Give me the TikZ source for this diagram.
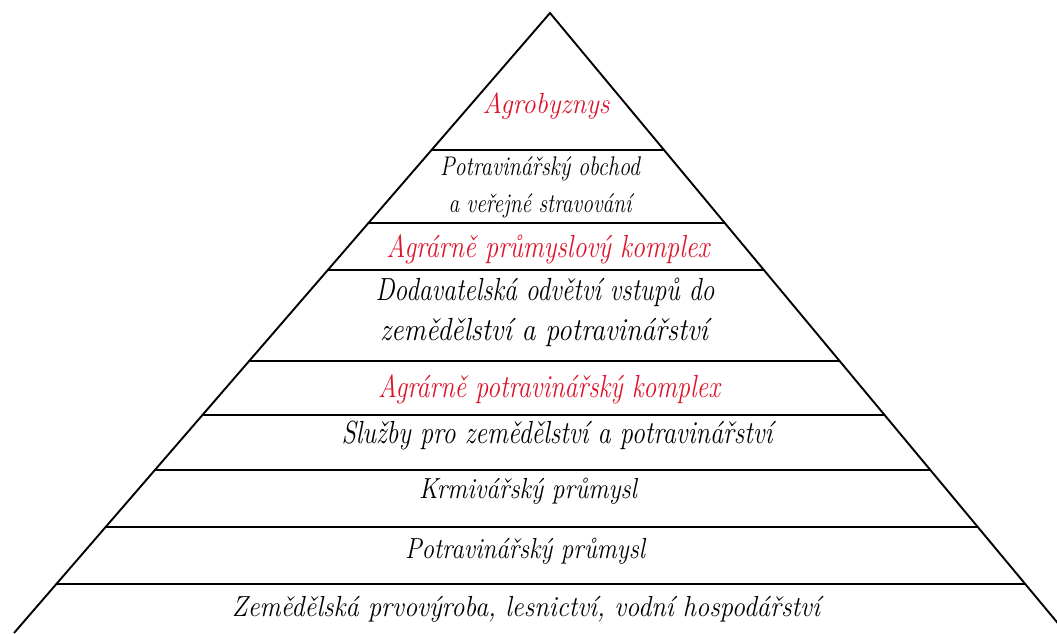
\documentclass[tikz,border=0pt]{standalone}
\usepackage{fontspec}
\usetikzlibrary{calc}
\definecolor{agred}{RGB}{222,20,44}
\newcommand{\fitw}[3]{\resizebox{#1pt}{\height}{\fontsize{#2}{#2}\selectfont\itshape #3}}
\tikzset{
  tier/.style={line width=1.9pt, line cap=round},
  side/.style={line width=1.9pt, line join=miter},
  lbl/.style={anchor=base, inner sep=0pt, text=black},
  redlbl/.style={lbl, text=agred}
}
\begin{document}
\begin{tikzpicture}[x=1pt,y=-1pt]
\useasboundingbox (0,0) rectangle (1057,633);
\fill[white] (0,0) rectangle (1057,633);
\coordinate (A) at (550,13);
\coordinate (BL) at (14,633);
\coordinate (BR) at (1066,633);
\draw[side] (BL) -- (A) -- (BR);
\foreach \t in {0.2210,0.3387,0.4145,0.5613,0.6484,0.7371,0.8290,0.9210}
  \draw[tier] ($(A)!\t!(BL)$) -- ($(A)!\t!(BR)$);
\node[redlbl] (t1) at (546,113) {\fitw{127}{29}{Agrobyznys}};
\node[lbl] (t2) at (540,175) {\fitw{200}{27}{Potravinářský obchod}};
\node[lbl] (t3) at (540,212) {\fitw{183}{27}{a veřejné stravování}};
\node[redlbl] (t4) at (548,257) {\fitw{323}{32}{Agrárně průmyslový komplex}};
\node[lbl] (t5) at (545,300) {\fitw{339}{32}{Dodavatelská odvětví vstupů do}};
\node[lbl] (t6) at (544,340) {\fitw{328}{32}{zemědělství a potravinářství}};
\node[redlbl] (t7) at (549,397) {\fitw{342}{32}{Agrárně potravinářský komplex}};
\node[lbl] (t8) at (557,443) {\fitw{431}{32}{Služby pro zemědělství a potravinářství}};
\node[lbl] (t9) at (528,498) {\fitw{218}{29}{Krmivářský průmysl}};
\node[lbl] (t10) at (525,558) {\fitw{240}{29}{Potravinářský průmysl}};
\node[lbl] (t11) at (526,616) {\fitw{588}{29}{Zemědělská prvovýroba, lesnictví, vodní hospodářství}};
\end{tikzpicture}
\end{document}
